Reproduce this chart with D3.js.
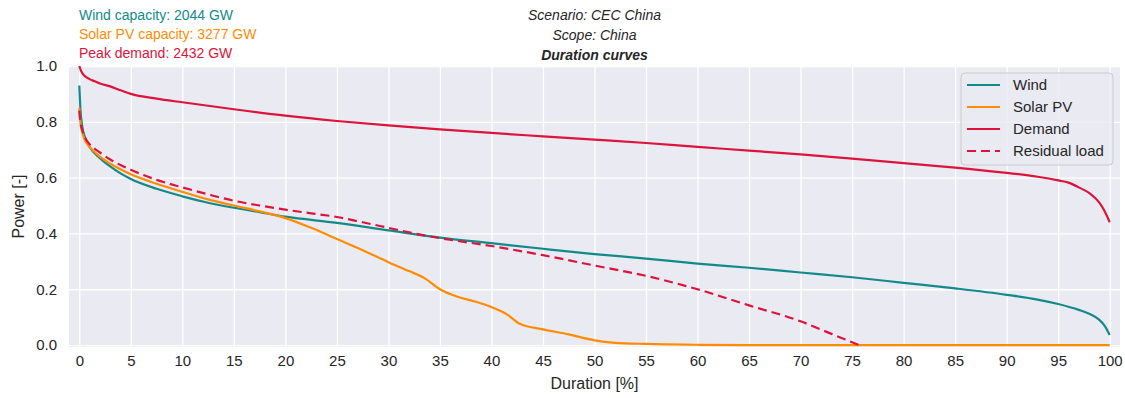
<!DOCTYPE html>
<html><head><meta charset="utf-8">
<script src="https://cdn.jsdelivr.net/npm/d3@7"></script>
<style>
body{margin:0;background:#fff;}
text{font-family:"Liberation Sans",Arial,sans-serif;}
</style></head>
<body><svg id="c" width="1125" height="398"></svg>
<script>
// Duration (%) and normalised power values
const windX = [0,0.1,0.3,0.6,1,2,3,4,5,7.5,10,12.5,15,17.5,20,25,30,35,40,45,50,55,60,65,70,75,80,85,90,93,95,97,98,99,99.5,100];
const windY = [0.93,0.85,0.78,0.74,0.71,0.67,0.64,0.615,0.595,0.56,0.533,0.51,0.492,0.476,0.46,0.438,0.411,0.385,0.365,0.345,0.326,0.31,0.292,0.277,0.26,0.243,0.223,0.203,0.18,0.163,0.147,0.126,0.112,0.09,0.07,0.036];

const solarX = [0,0.1,0.3,0.6,1,2,3,4,5,7.5,10,12.5,15,17.5,20,22.5,25,27.5,30,32,33.5,35,36.7,38.5,40.2,41.5,42.8,45,47.5,50,52,55,60,65,100];
const solarY = [0.85,0.8,0.76,0.73,0.71,0.675,0.65,0.63,0.612,0.578,0.549,0.522,0.5,0.479,0.455,0.42,0.38,0.34,0.297,0.265,0.24,0.2,0.173,0.155,0.133,0.11,0.075,0.056,0.038,0.017,0.008,0.004,0.001,0,0];

const demandX = [0,0.2,0.5,1,1.5,2,3,4,5,7.5,10,15,20,25,30,35,40,45,50,55,60,65,70,75,80,85,90,93,95,96,97,98,99,99.5,100];
const demandY = [1.0,0.98,0.965,0.953,0.945,0.937,0.927,0.913,0.9,0.883,0.87,0.845,0.822,0.803,0.787,0.773,0.76,0.748,0.736,0.724,0.71,0.697,0.683,0.668,0.652,0.636,0.617,0.603,0.59,0.582,0.565,0.545,0.51,0.48,0.44];

const residualX = [0,0.1,0.3,0.6,1,2,3,4,5,7.5,10,12.5,15,17.5,20,22.5,25,27.5,30,32.5,35,40,45,50,55,60,65,70,73,75,76];
const residualY = [0.84,0.8,0.77,0.74,0.72,0.69,0.665,0.645,0.628,0.592,0.565,0.54,0.517,0.5,0.485,0.472,0.459,0.44,0.42,0.4,0.383,0.355,0.322,0.285,0.248,0.2,0.142,0.085,0.04,0.01,-0.005];

const xTicks = d3.range(0,101,5);
const yTicks = [0,0.2,0.4,0.6,0.8,1.0];
const seriesNames = ["Wind","Solar PV","Demand","Residual load"];
const seriesColors = ["#138a8a","#ff8c00","#dc143c","#dc143c"];
const infoLines = ["Wind capacity: 2044 GW","Solar PV capacity: 3277 GW","Peak demand: 2432 GW"];
const titleLines = ["Scenario: CEC China","Scope: China","Duration curves"];

const svg = d3.select("#c");
const L=69,R=1120,T=66,B=347;
const x = d3.scaleLinear().domain([-1,101]).range([L,R]);
const y = d3.scaleLinear().domain([-0.007,1.0]).range([B,T]);

svg.append("rect").attr("x",L).attr("y",T).attr("width",R-L).attr("height",B-T).attr("fill","#eaeaf2");
svg.append("defs").append("clipPath").attr("id","clip").append("rect")
  .attr("x",L).attr("y",T-2).attr("width",R-L).attr("height",B-T+2);

// grid
const xg = svg.append("g").attr("transform",`translate(0,${B})`)
  .call(d3.axisBottom(x).tickValues(xTicks).tickSize(-(B-T)).tickFormat(d=>d).tickPadding(8));
const yg = svg.append("g").attr("transform",`translate(${L},0)`)
  .call(d3.axisLeft(y).tickValues(yTicks).tickSize(-(R-L)).tickFormat(d3.format(".1f")).tickPadding(12));
[xg,yg].forEach(g=>{
  g.select(".domain").remove();
  g.selectAll(".tick line").attr("stroke","#ffffff").attr("stroke-width",1.3);
  g.selectAll(".tick text").attr("fill","#262626").style("font-size","15px");
});

const line = d3.line().x(d=>x(d[0])).y(d=>y(d[1])).curve(d3.curveMonotoneX);
const data = [
  d3.zip(windX,windY), d3.zip(solarX,solarY), d3.zip(demandX,demandY), d3.zip(residualX,residualY)
];
const gl = svg.append("g").attr("clip-path","url(#clip)");
data.forEach((d,i)=>{
  gl.append("path").datum(d).attr("d",line).attr("fill","none")
    .attr("stroke",seriesColors[i]).attr("stroke-width",2.2)
    .attr("stroke-dasharray", i===3 ? "9,5" : null);
});

// axis labels
svg.append("text").attr("x",(L+R)/2).attr("y",389).attr("text-anchor","middle")
  .attr("fill","#262626").style("font-size","16px").text("Duration [%]");
svg.append("text").attr("transform",`translate(24,${(T+B)/2}) rotate(-90)`).attr("text-anchor","middle")
  .attr("fill","#262626").style("font-size","16px").text("Power [-]");

// info text
infoLines.forEach((t,i)=>{
  svg.append("text").attr("x",79).attr("y",20+i*19).attr("fill",seriesColors[i])
    .style("font-size","14px").text(t);
});
// title
titleLines.forEach((t,i)=>{
  svg.append("text").attr("x",(L+R)/2).attr("y",20+i*20).attr("text-anchor","middle")
    .attr("fill","#262626").style("font-size","14px").style("font-style","italic")
    .style("font-weight", i===2 ? "bold":"normal").text(t);
});

// legend
const lg = svg.append("g");
lg.append("rect").attr("x",961).attr("y",73).attr("width",152).attr("height",92).attr("rx",4)
  .attr("fill","#eaeaf2").attr("fill-opacity",0.8).attr("stroke","#cccccc").attr("stroke-width",1);
seriesNames.forEach((n,i)=>{
  const yy = 85+i*22;
  lg.append("line").attr("x1",967).attr("x2",1000).attr("y1",yy).attr("y2",yy)
    .attr("stroke",seriesColors[i]).attr("stroke-width",2.2).attr("stroke-dasharray", i===3 ? "9,5" : null);
  lg.append("text").attr("x",1013).attr("y",yy+5).attr("fill","#262626").style("font-size","15px").text(n);
});
</script></body></html>
